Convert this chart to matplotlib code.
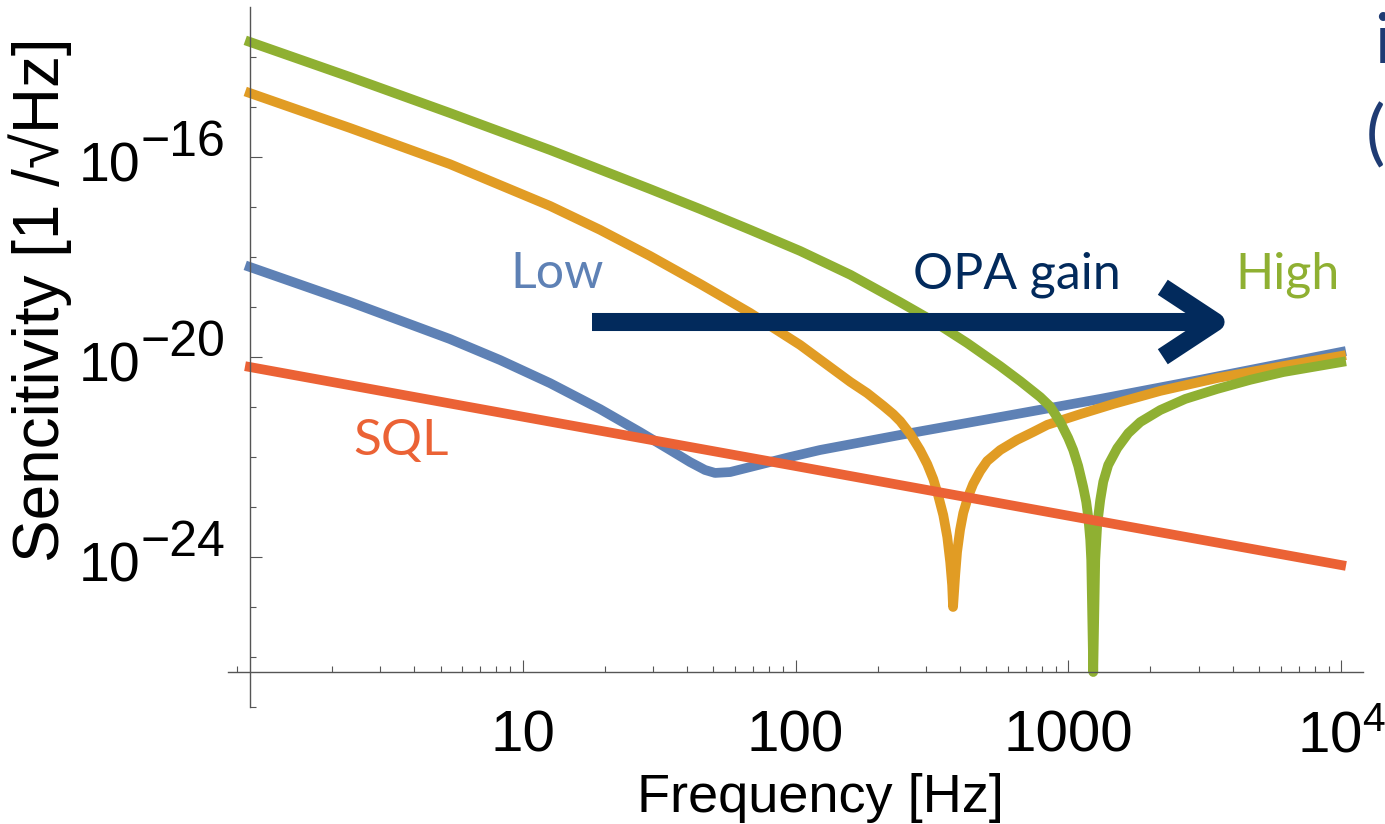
import numpy as np
import matplotlib
matplotlib.use("Agg")
import matplotlib.pyplot as plt
from matplotlib.ticker import LogLocator, FixedLocator, NullFormatter
from matplotlib.transforms import offset_copy

plt.rcParams['font.family'] = ['Liberation Sans', 'DejaVu Sans']
plt.rcParams['mathtext.fontset'] = 'custom'
plt.rcParams['mathtext.rm'] = 'Liberation Sans'
plt.rcParams['mathtext.it'] = 'Liberation Sans:italic'
plt.rcParams['mathtext.default'] = 'regular'

# colours (Mathematica default style)
c_low = '#5e81b5'
c_mid = '#e19c24'
c_high = '#8fb032'
c_sql = '#eb6235'
navy = '#022a5c'

# Data
# SQL line
f_sql = [1, 10, 100, 1000, 10000]
sens_sql = [6.3e-21, 6.4e-22, 6.6e-23, 6.7e-24, 6.9e-25]

# low OPA gain
f_low = [1, 2.33, 5.41, 8.26, 12.6, 19.2, 26.9, 34.7, 41.1, 46.6, 50.7, 57.6,
         68.2, 95.5, 123, 241, 562, 1309, 3048, 10000]
sens_low = [6.31e-19, 1.26e-19, 2.29e-20, 8.7e-21, 3.0e-21, 9.1e-22, 3.16e-22,
            1.38e-22, 7.9e-23, 5.5e-23, 4.8e-23, 5.0e-23, 6.3e-23, 1.0e-22,
            1.38e-22, 2.75e-22, 6.3e-22, 1.45e-21, 3.5e-21, 1.26e-20]

# middle OPA gain
f_mid = [1, 2.33, 5.41, 12.6, 19.2, 29.3, 44.7, 68.2, 104, 159, 183, 210, 228,
         242, 263, 286, 304, 320, 333, 348, 360, 369, 375, 378, 385, 391, 401,
         412, 430, 448, 475, 504, 563, 649, 743, 837, 1106, 1462, 2173, 3516,
         6138, 10000]
sens_mid = [1.9e-15, 3.8e-16, 7.2e-17, 1.05e-17, 3.5e-18, 1.05e-18, 2.9e-19,
            7.6e-20, 1.74e-20, 3.16e-21, 1.9e-21, 1.05e-21, 7.2e-22, 5.2e-22,
            2.9e-22, 1.38e-22, 7.2e-23, 3.6e-23, 1.74e-23, 6.9e-24, 2.5e-24,
            7.9e-25, 2.75e-25, 1.0e-25, 4.4e-25, 1.26e-24, 3.5e-24, 7.6e-24,
            1.66e-23, 2.9e-23, 5.2e-23, 8.3e-23, 1.38e-22, 2.2e-22, 3.16e-22,
            4.4e-22, 7.2e-22, 1.15e-21, 2.1e-21, 3.8e-21, 6.6e-21, 1.05e-20]

# high OPA gain
f_high = [1, 2.33, 5.41, 12.6, 29.3, 44.7, 68.2, 104, 159, 241, 320, 426, 562,
          666, 789, 858, 934, 999, 1042, 1087, 1134, 1163, 1183, 1203, 1213,
          1234, 1255, 1276, 1309, 1343, 1400, 1511, 1659, 1835, 2173, 2684,
          3516, 4645, 6138, 10000]
sens_high = [2.0e-14, 3.98e-15, 7.59e-16, 1.38e-16, 2.29e-17, 9.1e-18, 3.5e-18,
             1.32e-18, 4.4e-19, 1.26e-19, 5.2e-20, 1.9e-20, 6.6e-21, 3.3e-21,
             1.58e-21, 1.02e-21, 5.0e-22, 2.4e-22, 1.38e-22, 6.6e-23, 2.5e-23,
             1.26e-23, 6.3e-24, 2.2e-24, 8.7e-25, 5e-27, 8.7e-25, 4.4e-24,
             1.38e-23, 3.2e-23, 6.9e-23, 1.5e-22, 3.0e-22, 5.0e-22, 8.7e-22,
             1.45e-21, 2.3e-21, 3.5e-21, 5.0e-21, 7.9e-21]

x_ticks = [10, 100, 1000, 10000]
x_ticklabels = ['10', '100', '1000', '$10^4$']
y_ticks = [1e-24, 1e-20, 1e-16]
y_exps = ['\u221224', '\u221220', '\u221216']

W, H = 1385, 824
fig = plt.figure(figsize=(W / 100, H / 100), dpi=100)
ax = fig.add_axes([228 / W, 117 / H, 1135 / W, 700 / H])

lw = 7.0
ax.plot(f_low, sens_low, color=c_low, lw=lw, solid_joinstyle='round')
ax.plot(f_mid, sens_mid, color=c_mid, lw=lw, solid_joinstyle='round')
ax.plot(f_high, sens_high, color=c_high, lw=lw, solid_joinstyle='round')
ax.plot(f_sql, sens_sql, color=c_sql, lw=lw)

ax.set_xscale('log')
ax.set_yscale('log')
ax.set_xlim(10 ** -0.08, 10 ** 4.08)
ax.set_ylim(1e-27, 1e-13)

# Mathematica-like axes crossing at (1, 10^-26.3)
for s in ['top', 'right']:
    ax.spines[s].set_visible(False)
ax.spines['left'].set_position(('data', 1))
ax.spines['bottom'].set_position(('data', 10 ** -26.3))
for s in ['left', 'bottom']:
    ax.spines[s].set_color('#555555')
    ax.spines[s].set_linewidth(1.0)
ax.patch.set_visible(False)

ax.set_xticks(x_ticks)
ax.set_xticklabels(x_ticklabels)
ax.xaxis.set_minor_locator(LogLocator(base=10, subs=np.arange(2, 10), numticks=30))
ax.xaxis.set_minor_formatter(NullFormatter())
ax.set_yticks(y_ticks)
ax.set_yticklabels(['' for v in y_ticks])
ax.yaxis.set_minor_locator(FixedLocator([10.0 ** k for k in range(-27, -13)
                                         if k not in (-24, -20, -16)]))
ax.yaxis.set_minor_formatter(NullFormatter())

ax.tick_params(which='both', direction='in', color='#555555', width=0.8)
ax.tick_params(which='major', length=8.5)
ax.tick_params(which='minor', length=4.3)
ax.tick_params(axis='x', which='major', labelsize=42, pad=27)

# y tick labels as 10 with a large raised exponent
for v, e in zip(y_ticks, y_exps):
    ax.text(1, v, '10', ha='right', va='baseline', fontsize=40,
            transform=offset_copy(ax.transData, fig=fig, x=-109, y=-24, units='dots'))
    ax.text(1, v, e, ha='left', va='baseline', fontsize=36,
            transform=offset_copy(ax.transData, fig=fig, x=-109, y=1, units='dots'))

fig.text(40 / W, 1 - 300 / H, 'Sencitivity [1 /\u221aHz]', rotation=90,
         ha='center', va='center', fontsize=46)
fig.text(820 / W, 1 - 812 / H, 'Frequency [Hz]', ha='center', va='baseline',
         fontsize=39)

# labels on the curves
fig.text(557 / W, 1 - 288 / H, 'Low', ha='center', va='baseline', fontsize=36,
         color=c_low, family='Lato')
fig.text(1017 / W, 1 - 288 / H, 'OPA gain', ha='center', va='baseline',
         fontsize=36, color=navy, family='Lato')
fig.text(1287 / W, 1 - 288 / H, 'High', ha='center', va='baseline', fontsize=36,
         color=c_high, family='Lato')
fig.text(401 / W, 1 - 455 / H, 'SQL', ha='center', va='baseline', fontsize=37,
         color=c_sql, family='Lato')

# the gain arrow
ax.annotate('', xy=(1232, H - 322), xytext=(592, H - 322),
            xycoords='figure pixels', textcoords='figure pixels',
            arrowprops=dict(arrowstyle='->,head_length=3.8,head_width=2.5',
                            lw=13, color=navy, shrinkA=0, shrinkB=0,
                            capstyle='butt'))

# cut-off slide text at the right edge
fig.text(1374 / W, 1 - 63 / H, 'i', ha='left', va='baseline', fontsize=50,
         color='#1f3b73', family='Lato')
fig.text(1366 / W, 1 - 157 / H, '(', ha='left', va='baseline', fontsize=52,
         color='#1f3b73', family='Lato')

fig.savefig('out.png', dpi=100)
